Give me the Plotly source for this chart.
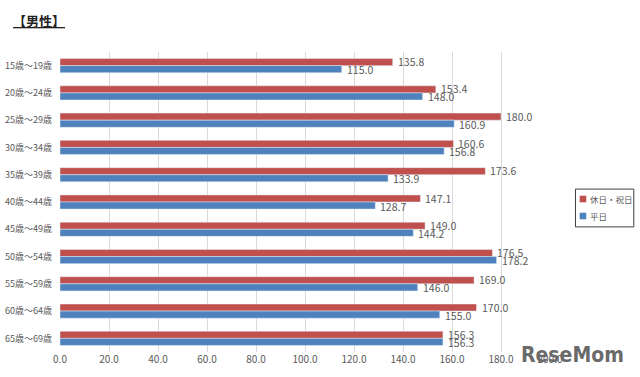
import plotly.graph_objects as go

categories = ["15歳～19歳", "20歳～24歳", "25歳～29歳", "30歳～34歳", "35歳～39歳",
              "40歳～44歳", "45歳～49歳", "50歳～54歳", "55歳～59歳", "60歳～64歳", "65歳～69歳"]
holiday = [135.8, 153.4, 180.0, 160.6, 173.6, 147.1, 149.0, 176.5, 169.0, 170.0, 156.3]
weekday = [115.0, 148.0, 160.9, 156.8, 133.9, 128.7, 144.2, 178.2, 146.0, 155.0, 156.3]
series_names = ["休日・祝日", "平日"]
tick_vals = [0, 20, 40, 60, 80, 100, 120, 140, 160, 180, 200]
tick_text = ["%.1f" % v for v in tick_vals]

font = "Noto Sans CJK JP, Noto Sans, sans-serif"
gray = "#595959"
red = "#C0504D"
blue = "#4F81BD"

fig = go.Figure()
fig.add_trace(go.Bar(y=categories, x=holiday, name=series_names[0], orientation="h", marker_color=red))
fig.add_trace(go.Bar(y=categories, x=weekday, name=series_names[1], orientation="h", marker_color=blue))

for cat, h, w in zip(categories, holiday, weekday):
    fig.add_annotation(x=h, y=cat, text="%.1f" % h, showarrow=False, xanchor="left",
                       yanchor="middle", xshift=3, yshift=4,
                       font=dict(family=font, size=10.5, color=gray))
    fig.add_annotation(x=w, y=cat, text="%.1f" % w, showarrow=False, xanchor="left",
                       yanchor="middle", xshift=3, yshift=-4,
                       font=dict(family=font, size=10.5, color=gray))

fig.update_layout(
    width=640, height=377,
    margin=dict(l=60, r=90, t=52, b=25, autoexpand=False),
    barmode="group", bargap=0.48, bargroupgap=0,
    plot_bgcolor="white", paper_bgcolor="white",
    font=dict(family=font, size=9, color=gray),
    showlegend=False,
    xaxis=dict(range=[0, 200], tickvals=tick_vals, ticktext=tick_text,
               showgrid=True, gridcolor="#D9D9D9", gridwidth=1, zeroline=False,
               showline=False, ticks="", tickfont=dict(size=10, color=gray), automargin=False),
    yaxis=dict(autorange="reversed", showgrid=False, showline=False, ticks="",
               ticklabelstandoff=7, tickfont=dict(size=9, color=gray), automargin=False),
)

# custom legend box
fig.add_shape(type="rect", xref="paper", yref="paper", x0=1.052, x1=1.171, y0=0.417, y1=0.543,
              line=dict(color="#404040", width=1), fillcolor="white")
for i, (nm, col) in enumerate(zip(series_names, [red, blue])):
    yc = 0.51 - i * 0.0567
    fig.add_shape(type="rect", xref="paper", yref="paper", x0=1.0605, x1=1.074,
                  y0=yc - 0.011, y1=yc + 0.011, line=dict(width=0), fillcolor=col)
    fig.add_annotation(xref="paper", yref="paper", x=1.077, y=yc, xanchor="left", yanchor="middle",
                       text=nm, showarrow=False, font=dict(family=font, size=8.5, color=gray))

fig.add_annotation(xref="paper", yref="paper", x=-0.1, y=1.105, xanchor="left", yanchor="middle",
                   text="<b><u>【男性】</u></b>", showarrow=False,
                   font=dict(family=font, size=13, color="#222222"))
fig.add_annotation(xref="paper", yref="paper", x=1.155, y=-0.01, xanchor="right", yanchor="middle",
                   text="<b>ReseMom</b>", showarrow=False,
                   font=dict(family="DejaVu Sans Condensed, DejaVu Sans", size=21, color="#6A6A6A"))
fig.write_html("out.html", post_script="document.body.style.margin='0px';",
               config={"displayModeBar": False})
